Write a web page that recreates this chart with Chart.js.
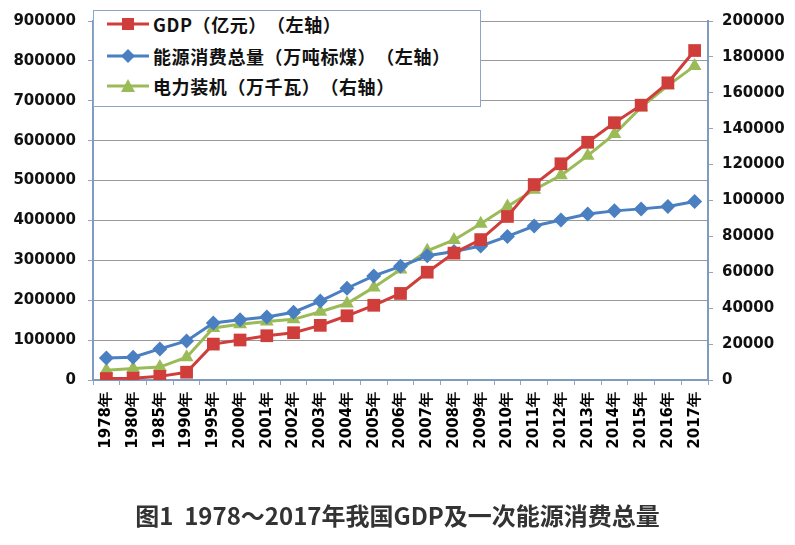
<!DOCTYPE html>
<html><head><meta charset="utf-8">
<script src="https://cdn.jsdelivr.net/npm/chart.js@4"></script>
<style>
html,body{margin:0;padding:0;background:#fff;}
#wrap{position:relative;width:795px;height:545px;overflow:hidden;}
#c{position:absolute;left:0;top:0;}
#legend{position:absolute;left:93px;top:10px;width:388px;height:97px;border:1.5px solid #8ea5c8;background:#fff;box-sizing:border-box;font-family:"Noto Sans CJK SC";font-weight:bold;font-size:18px;letter-spacing:0.6px;color:#111;text-spacing-trim:space-all;}
.item{position:absolute;left:13px;height:24px;display:flex;align-items:center;white-space:nowrap;}
.item svg{margin-right:4px;}
#title{position:absolute;left:0;width:795px;top:497px;text-align:center;font-family:"Noto Sans CJK SC";font-weight:bold;font-size:24px;color:#333;white-space:pre;}
</style></head>
<body><div id="wrap">
<canvas id="c" width="795" height="545"></canvas>
<div id="legend"></div>
<div id="title">图1  1978～2017年我国GDP及一次能源消费总量</div>
</div>
<script>
const categories = ['1978年','1980年','1985年','1990年','1995年','2000年','2001年','2002年','2003年','2004年','2005年','2006年','2007年','2008年','2009年','2010年','2011年','2012年','2013年','2014年','2015年','2016年','2017年'];
const gdp = [3679, 4588, 9099, 19500, 90000, 100280, 111000, 118500, 137000, 161000, 187300, 217000, 270232, 318000, 352000, 410000, 490000, 542000, 596000, 645000, 689000, 745000, 826000];
const energy = [55000, 57000, 78000, 98000, 143000, 151000, 158000, 170000, 198000, 230000, 261000, 285000, 311442, 322000, 336000, 360000, 386000, 401000, 416000, 424000, 429000, 435000, 447500];
const power = [5400, 6400, 7200, 12700, 29000, 31000, 32600, 33800, 38000, 42600, 51600, 61600, 72000, 78000, 87000, 96700, 106000, 114000, 125000, 137000, 152000, 164000, 175000];
const seriesNames = ['GDP（亿元）（左轴）','能源消费总量（万吨标煤）（左轴）','电力装机（万千瓦）（右轴）'];
const colors = ['#cf3e3b','#4a7fc1','#9bbb59'];

const tickFont = {family:'DejaVu Sans', weight:'bold', size:15};
const plain = v => String(v);

new Chart(document.getElementById('c'), {
  type:'line',
  data:{
    labels:categories,
    datasets:[
      {label:seriesNames[0], data:gdp, yAxisID:'y', borderColor:colors[0], backgroundColor:colors[0], borderWidth:3, pointStyle:'rect', pointRadius:9, pointBorderWidth:0, tension:0},
      {label:seriesNames[1], data:energy, yAxisID:'y', borderColor:colors[1], backgroundColor:colors[1], borderWidth:3, pointStyle:'rectRot', pointRadius:7.5, pointBorderWidth:0, tension:0},
      {label:seriesNames[2], data:power, yAxisID:'y1', borderColor:colors[2], backgroundColor:colors[2], borderWidth:3, pointStyle:'triangle', pointRadius:8, pointBorderWidth:0, tension:0}
    ]
  },
  options:{
    responsive:false, animation:false, devicePixelRatio:1,
    layout:{padding:{top:12,left:0,right:0,bottom:0}},
    plugins:{legend:{display:false}, title:{display:false}, tooltip:{enabled:false}},
    scales:{
      x:{offset:true,
        grid:{offset:true, drawOnChartArea:false, tickLength:5, color:'#8ea5c8'},
        border:{color:'#7f9bbf', width:2},
        ticks:{minRotation:90, maxRotation:90, autoSkip:false, font:{family:'DejaVu Sans', weight:'bold', size:15}, color:'#000', padding:7},
        afterFit(s){ s.height = 165; }
      },
      y:{position:'left', min:0, max:900000,
        ticks:{stepSize:100000, font:tickFont, color:'#111', padding:12, callback:plain},
        grid:{color:'#999999', tickColor:'#8ea5c8', tickLength:5},
        border:{color:'#7f9bbf', width:2},
        afterFit(s){ s.width = 93; }
      },
      y1:{position:'right', min:0, max:200000,
        ticks:{stepSize:20000, font:tickFont, color:'#111', padding:9, callback:plain},
        grid:{drawOnChartArea:false, color:'#8ea5c8', tickLength:5},
        border:{color:'#7f9bbf', width:2},
        afterFit(s){ s.width = 87; }
      }
    }
  }
});

// HTML legend
const legend = document.getElementById('legend');
const shapes = [
  c => `<rect x="15" y="4" width="12" height="12" fill="${c}"/>`,
  c => `<polygon points="21,3 28,10 21,17 14,10" fill="${c}"/>`,
  c => `<polygon points="21,3 28,16 14,16" fill="${c}"/>`
];
const tops = [1, 33, 63];
seriesNames.forEach((n,i)=>{
  const d = document.createElement('div');
  d.className='item';
  d.style.top = tops[i]+'px';
  d.innerHTML = `<svg width="42" height="20"><line x1="0" y1="10" x2="42" y2="10" stroke="${colors[i]}" stroke-width="3"/>${shapes[i](colors[i])}</svg><span>${n}</span>`;
  legend.appendChild(d);
});
</script>
</body></html>
